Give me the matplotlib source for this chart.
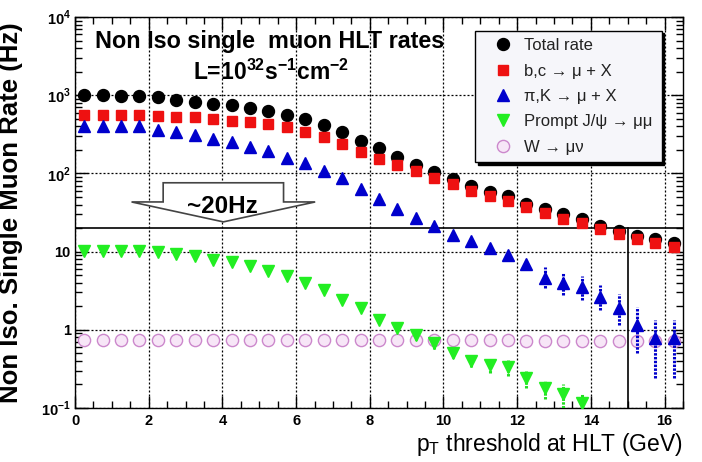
import numpy as np
import matplotlib
matplotlib.use("Agg")
import matplotlib.pyplot as plt
from matplotlib.patches import Polygon
from matplotlib.ticker import FixedLocator, FixedFormatter, MultipleLocator, LogLocator, NullFormatter

# ---------------- data ----------------
pt = [0.25, 0.75, 1.25, 1.75, 2.25, 2.75, 3.25, 3.75, 4.25, 4.75, 5.25, 5.75,
      6.25, 6.75, 7.25, 7.75, 8.25, 8.75, 9.25, 9.75, 10.25, 10.75, 11.25, 11.75,
      12.25, 12.75, 13.25, 13.75, 14.25, 14.75, 15.25, 15.75, 16.25]

total = [1000, 1000, 990, 980, 950, 870, 820, 780, 750, 690, 620, 565,
         500, 410, 335, 260, 212, 160, 127, 103, 85, 69, 58, 51,
         41, 35, 30, 26, 21.5, 18.6, 16, 14.3, 13]

bc = [565, 565, 565, 560, 550, 533, 523, 500, 473, 455, 425, 390,
      338, 290, 237, 190, 155, 129, 108, 87, 73, 60, 51, 45,
      37, 31, 26, 23, 19.7, 16.7, 14.7, 13, 11.5]

pik = [400, 400, 400, 400, 363, 338, 310, 278, 250, 215, 192, 159,
       134, 108, 88, 63, 47, 35, 27, 21, 16.5, 13.5, 11, 9,
       6.9, 4.6, 4.0, 3.5, 2.65, 1.9, 1.15, 0.78, 0.78]
pik_lo = [None] * 19 + [19.8, 15.4, 12.4, 10.0, 8.0, 6.0, 3.4, 2.75, 2.4, 1.8, 1.15, 0.5, 0.24, 0.24]
pik_hi = [None] * 19 + [22.3, 17.7, 14.7, 12.1, 10.1, 7.9, 6.4, 5.25, 4.9, 3.7, 2.9, 1.97, 1.33, 1.33]

jpsi = [10.2, 10.2, 10.1, 10.1, 10.0, 9.3, 8.9, 7.8, 7.3, 6.6, 5.7, 4.9,
        4.0, 3.2, 2.4, 1.9, 1.35, 1.06, 0.87, 0.67, 0.51, 0.40, 0.35, 0.33,
        0.24, 0.18, 0.15, 0.115, None, None, None, None, None]
jpsi_lo = [None] * 16 + [1.22, 0.94, 0.75, 0.57, 0.43, 0.33, 0.28, 0.26, 0.18, 0.13, 0.10, 0.08,
                         None, None, None, None, None]
jpsi_hi = [None] * 16 + [1.48, 1.18, 0.99, 0.78, 0.60, 0.48, 0.43, 0.41, 0.30, 0.23, 0.20, 0.15,
                         None, None, None, None, None]

wmunu = [0.75, 0.75, 0.75, 0.75, 0.75, 0.75, 0.74, 0.74, 0.74, 0.74, 0.74, 0.74,
         0.74, 0.74, 0.74, 0.74, 0.73, 0.73, 0.73, 0.73, 0.73, 0.73, 0.73, 0.73,
         0.72, 0.72, 0.72, 0.72, 0.72, 0.72, 0.71, 0.71, 0.71]

labels = ["Total rate", "b,c \u2192 \u03bc + X", "\u03c0,K \u2192 \u03bc + X",
          "Prompt J/\u03c8 \u2192 \u03bc\u03bc", "W \u2192 \u03bc\u03bd"]

xticks = [0, 2, 4, 6, 8, 10, 12, 14, 16]
ytick_vals = [0.1, 1, 10, 100, 1000, 10000]
ytick_labels = [r"10$^{\mathregular{-1}}$", "1", "10", r"10$^{\mathregular{2}}$",
                r"10$^{\mathregular{3}}$", r"10$^{\mathregular{4}}$"]

rate_line = 20
cut_pt = 15


def arr(v):
    return np.array([np.nan if a is None else a for a in v], dtype=float)


# ---------------- figure ----------------
FONTS = ["Liberation Sans", "DejaVu Sans"]
plt.rcParams["font.family"] = FONTS

fig = plt.figure(figsize=(7.02, 4.62), dpi=100)
ax = fig.add_axes([75 / 702, 54 / 462, 608 / 702, 391 / 462])

ax.set_yscale("log")
ax.set_xlim(0, 16.5)
ax.set_ylim(0.1, 1e4)

x = np.array(pt)

# grid
ax.grid(True, which="major", color="black", linestyle=(0, (1.6, 1.6)), linewidth=0.9)
ax.set_axisbelow(True)

# reference lines
ax.axhline(rate_line, color="black", lw=1.2, zorder=2)
ax.plot([cut_pt, cut_pt], [0.1, rate_line], color="black", lw=1.2, zorder=2)

# W -> mu nu
h_w, = ax.plot(x, arr(wmunu), ls="none", marker="o", ms=8.8, mfc="#f7e6f7",
               mec="#cc88cc", mew=1.0, zorder=3)

# total
h_tot, = ax.plot(x, arr(total), ls="none", marker="o", ms=8.6, color="black", zorder=4)
# b,c
h_bc, = ax.plot(x, arr(bc), ls="none", marker="s", ms=7.8, color="#ee1111", zorder=5)

# pi,K with error bars
p = arr(pik)
lo = arr(pik_lo)
hi = arr(pik_hi)
yerr = np.vstack([np.nan_to_num(p - lo, nan=0.0), np.nan_to_num(hi - p, nan=0.0)])
eb = ax.errorbar(x, p, yerr=yerr, fmt="none", ecolor="#0000cc", elinewidth=2.2,
                 capsize=0, zorder=6)
eb[2][0].set_linestyle((0, (0.8, 0.45)))
h_pik, = ax.plot(x, p, ls="none", marker="^", ms=8.6, color="#0000cc", zorder=6)

# J/psi with error bars
j = arr(jpsi)
jlo = arr(jpsi_lo)
jhi = arr(jpsi_hi)
jerr = np.vstack([np.nan_to_num(j - jlo, nan=0.0), np.nan_to_num(jhi - j, nan=0.0)])
eb2 = ax.errorbar(x, j, yerr=jerr, fmt="none", ecolor="#22dd22", elinewidth=2.2,
                  capsize=0, zorder=7)
eb2[2][0].set_linestyle((0, (0.8, 0.45)))
h_j, = ax.plot(x, j, ls="none", marker="v", ms=8.6, color="#22ee22", zorder=7)

# ticks
ax.xaxis.set_major_locator(FixedLocator(xticks))
ax.xaxis.set_minor_locator(MultipleLocator(0.5))
ax.yaxis.set_major_locator(FixedLocator(ytick_vals))
ax.yaxis.set_major_formatter(FixedFormatter(ytick_labels))
ax.yaxis.set_minor_locator(LogLocator(base=10, subs=np.arange(2, 10)))
ax.yaxis.set_minor_formatter(NullFormatter())
ax.tick_params(which="both", direction="in", top=True, right=True, width=1.0,
               labelsize=10.5, colors="black")
ax.tick_params(which="major", length=9)
ax.tick_params(which="minor", length=5)
ax.tick_params(axis="x", which="major", pad=4)
ax.tick_params(axis="y", which="major", pad=3)
for lab in ax.get_xticklabels() + ax.get_yticklabels():
    lab.set_fontweight("bold")
for s in ax.spines.values():
    s.set_linewidth(1.0)

# axis labels
ax.set_ylabel("Non Iso. Single Muon Rate (Hz)", fontsize=18.5, fontweight="bold")
ax.yaxis.set_label_coords(-0.085, 0.5)
ax.set_xlabel(r"p$_{\mathregular{T}}$ threshold at HLT (GeV)", fontsize=16.5, loc="right")
ax.xaxis.set_label_coords(1.0, -0.058)

# titles
ax.text(0.033, 0.92, "Non Iso single  muon HLT rates", transform=ax.transAxes,
        fontsize=16.8, fontweight="bold", ha="left", va="baseline", zorder=10)
ax.text(0.322, 0.84, r"L=10$^{\mathregular{32}}$s$^{\mathregular{-1}}$cm$^{\mathregular{-2}}$",
        transform=ax.transAxes, fontsize=16.5, fontweight="bold", ha="center",
        va="baseline", zorder=10)

# arrow annotation
arrow = Polygon([(0.145, 0.576), (0.343, 0.576), (0.343, 0.527), (0.395, 0.527),
                 (0.244, 0.476), (0.093, 0.527), (0.145, 0.527)], closed=True,
                transform=ax.transAxes, facecolor="white", edgecolor="#444444",
                lw=1.2, zorder=8)
ax.add_patch(arrow)
ax.text(0.242, 0.515, "~20Hz", transform=ax.transAxes, fontsize=17.5,
        fontweight="bold", ha="center", va="center", zorder=9)

# legend
leg = ax.legend([h_tot, h_bc, h_pik, h_j, h_w], labels, loc="upper left",
                bbox_to_anchor=(0.658, 0.955, 0.307, 0.01), mode="expand",
                borderaxespad=0, fontsize=12, frameon=True, fancybox=False,
                shadow={"color": "black", "alpha": 1.0}, borderpad=0.45,
                handlelength=2.4, handletextpad=0.1, labelspacing=0.62,
                numpoints=1)
for t in leg.get_texts():
    t.set_color("#222222")
leg.get_frame().set_facecolor("#f6f6fa")
leg.get_frame().set_edgecolor("black")
leg.get_frame().set_linewidth(1.0)
leg.get_frame().set_alpha(1.0)
leg.set_zorder(20)

fig.savefig("out.png", dpi=100)
